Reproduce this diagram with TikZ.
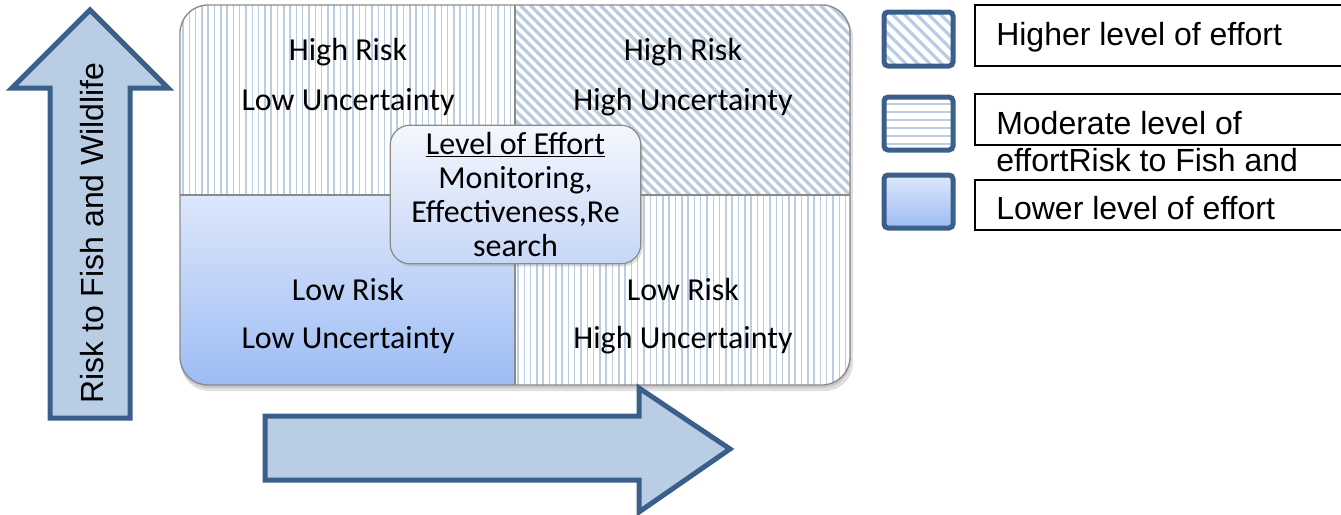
\documentclass[tikz,border=0pt]{standalone}
\usepackage{fontspec}
\setmainfont{Carlito}
\newfontfamily\arialf{Liberation Sans}
\usetikzlibrary{shadows}
\definecolor{arrowfill}{HTML}{B9CDE5}
\definecolor{arrowline}{HTML}{3A5F8B}
\definecolor{stripe}{HTML}{BACDE3}
\definecolor{frame}{HTML}{8A8A8A}
\definecolor{gradtop}{HTML}{DDE7FB}
\definecolor{gradbot}{HTML}{9DBCF4}
\definecolor{efftop}{HTML}{F4F7FE}
\definecolor{effbot}{HTML}{C6D7F6}
\begin{document}
\begin{tikzpicture}[x=0.75pt,y=-0.75pt,
  qtext/.style={font=\fontsize{24}{28}\selectfont, inner sep=0},
  ltext/.style={font=\arialf\fontsize{24}{27.75}\selectfont, anchor=west, inner sep=0, align=left},
  bigarrow/.style={fill=arrowfill, draw=arrowline, line width=3.75pt, line join=miter},
  swatch/.style={draw=arrowline, line width=3.75pt, rounded corners=3pt},
  legbox/.style={draw=black, line width=1pt},
  stripeline/.style={draw=stripe, line width=1.1pt},
  diagline/.style={draw=stripe, line width=2.4pt},
  effortbox/.style={draw=frame, line width=0.9pt, rounded corners=15pt, top color=efftop, bottom color=effbot,
     minimum width=188pt, minimum height=104pt, align=center, inner sep=0,
     font=\fontsize{24}{25.5}\selectfont,
     drop shadow={opacity=0.25, shadow xshift=1.5pt, shadow yshift=-2pt}}]
\useasboundingbox (0,0) rectangle (1341,514);

% shadow of the matrix
\fill[black, opacity=0.12, rounded corners=21pt] (181,9) rectangle (853,391);
\fill[black, opacity=0.10, rounded corners=21pt] (180,7) rectangle (851,388);

% matrix quadrants
\begin{scope}
  \clip[rounded corners=21pt] (180,5) rectangle (850,385);
  \fill[white] (180,5) rectangle (850,385);
  \foreach \x in {183,189.3,...,515} \draw[stripeline] (\x,5) -- (\x,195);
  \foreach \x in {518,524.3,...,850} \draw[stripeline] (\x,195) -- (\x,385);
  \begin{scope}
    \clip (515,5) rectangle (850,195);
    \foreach \a in {320,330,...,850} \draw[diagline] (\a,5) -- (\a+190,195);
  \end{scope}
  \shade[top color=gradtop, bottom color=gradbot] (180,195) rectangle (515,385);
\end{scope}
\draw[frame, line width=0.9pt] (515,5) -- (515,385);
\draw[frame, line width=0.9pt] (180,195) -- (850,195);
\draw[frame, line width=1pt, rounded corners=21pt] (180,5) rectangle (850,385);

% quadrant texts
\node[qtext] (tlA) at (348,52) {High Risk};
\node[qtext] (tlB) at (348,102) {Low Uncertainty};
\node[qtext] (trA) at (683,52) {High Risk};
\node[qtext] (trB) at (683,102) {High Uncertainty};
\node[qtext] (blA) at (348,290) {Low Risk};
\node[qtext] (blB) at (348,340) {Low Uncertainty};
\node[qtext] (brA) at (683,290) {Low Risk};
\node[qtext] (brB) at (683,340) {High Uncertainty};

% center box
\node[effortbox] (effort) at (515.5,194.5) {\underline{Level of Effort}\\Monitoring,\\Effectiveness,Re\\search};

% vertical arrow
\draw[bigarrow] (50,418) -- (50,88) -- (12,88) -- (90,10) -- (168,88) -- (130,88) -- (130,418) -- cycle;
\node[font=\arialf\fontsize{24}{28}\selectfont, rotate=90, inner sep=0] (vlabel) at (92,233) {Risk to Fish and Wildlife};

% horizontal arrow
\draw[bigarrow] (265,416) -- (639,416) -- (639,388) -- (730,449) -- (639,512) -- (639,480) -- (265,480) -- cycle;

% legend swatches
\begin{scope}
  \clip (884,12) rectangle (953,66);
  \fill[white] (884,12) rectangle (953,66);
  \foreach \a in {830,842,...,960} \draw[diagline] (\a,12) -- (\a+54,66);
\end{scope}
\draw[swatch] (884,12) rectangle (953,66);

\begin{scope}
  \clip (884,97) rectangle (953,150);
  \fill[white] (884,97) rectangle (953,150);
  \foreach \y in {104,112,...,150} \draw[draw=stripe, line width=1.5pt] (884,\y) -- (953,\y);
\end{scope}
\draw[swatch] (884,97) rectangle (953,150);

\shade[top color=gradtop, bottom color=gradbot] (884,175) rectangle (953,228);
\draw[swatch] (884,175) rectangle (953,228);

% legend text boxes
\draw[legbox] (975,5) rectangle (1360,66);
\draw[legbox] (975,94) rectangle (1360,145);
\draw[legbox] (975,180) rectangle (1360,230);
\node[ltext] (lgA) at (996,37) {Higher level of effort};
\node[ltext] (lgB) at (996,141.5) {Moderate level of\\effortRisk to Fish and};
\node[ltext] (lgC) at (996,208) {Lower level of effort};
\end{tikzpicture}
\end{document}
